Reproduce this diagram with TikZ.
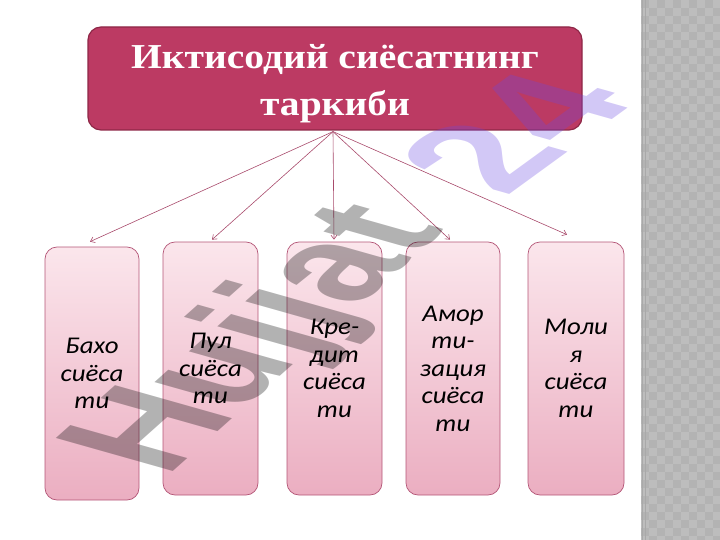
\documentclass[tikz,border=0pt]{standalone}
\usepackage{fontspec}
\setmainfont{Liberation Serif}[FakeStretch=1.13]
\newfontfamily\boxfont{Carlito}[FakeStretch=1.12]
\newfontfamily\wmfont{Liberation Sans}
\usetikzlibrary{arrows.meta,calc}
\definecolor{titlefill}{HTML}{BC3A63}
\definecolor{titleedge}{HTML}{8E2747}
\definecolor{boxtop}{HTML}{FBE6EC}
\definecolor{boxbot}{HTML}{EBAEC1}
\definecolor{boxedge}{HTML}{B45677}
\definecolor{arrcol}{HTML}{A84A6B}
\definecolor{stripbase}{HTML}{BDBDBD}
\definecolor{stripdark}{HTML}{B3B3B3}
\definecolor{stripline}{HTML}{A9A9A9}
\definecolor{wmgray}{HTML}{000000}
\definecolor{wmpurple}{HTML}{6A48E0}
\tikzset{
  titlebox/.style={draw=titleedge, line width=1.2pt, fill=titlefill, rounded corners=13pt,
    text=white, align=center, inner sep=0pt, text height=83pt, text depth=8pt,
    font=\bfseries\fontsize{35}{47.7}\selectfont},
  pbox/.style={draw=boxedge, line width=0.7pt, rounded corners=12pt,
    top color=boxtop, bottom color=boxbot, align=center, inner sep=0pt,
    font=\boxfont\itshape\fontsize{24}{27.5}\selectfont},
  arr/.style={draw=arrcol, line width=0.6pt, -{Straight Barb[length=4pt,width=6pt]}},
  wm/.style={inner sep=0pt, text opacity=0.3, font=\wmfont\bfseries\fontsize{138}{140}\selectfont}
}
\begin{document}
\begin{tikzpicture}[x=1pt,y=-1pt]
\useasboundingbox (0,0) rectangle (720,540);
% right strip
\fill[stripbase] (641,0) rectangle (720,540);
\foreach \i in {0,...,9}{
  \foreach \j in {0,...,33}{
    \fill[stripdark] ({641+8*\i},{16*\j+8*mod(\i,2)}) rectangle +(8,8);
  }
}
\draw[stripline, line width=1pt] (642,0) -- (642,540);
\draw[stripline, line width=0.6pt] (645,0) -- (645,540);
% title
\node[titlebox, minimum width=494pt, minimum height=103pt] (title) at (335,78.5)
  {Иктисодий сиёсатнинг\\таркиби};
% boxes
\node[pbox, minimum width=94pt, minimum height=253pt] (b1) at (92,373.5) {Бахо\\сиёса\\ти};
\node[pbox, minimum width=95pt, minimum height=253pt] (b2) at (210.5,368.5) {Пул\\сиёса\\ти};
\node[pbox, minimum width=95pt, minimum height=253pt] (b3) at (334.5,368.5) {Кре-\\дит\\сиёса\\ти};
\node[pbox, minimum width=94pt, minimum height=253pt] (b4) at (453,368.5) {Амор\\ти-\\зация\\сиёса\\ти};
\node[pbox, minimum width=96pt, minimum height=253pt] (b5) at (576,368.5) {Моли\\я\\сиёса\\ти};
% connectors
\coordinate (hub) at ($(title.south)+(-2,1)$);
\draw[arr] (hub) -- ($(b1.north)+(-2,-5)$);
\draw[arr] (hub) -- ($(b2.north)+(1.5,-2)$);
\draw[arr] (hub) -- ($(b3.north)+(-0.5,-2)$);
\draw[arr] (hub) -- ($(b4.north)+(-3,-2)$);
\draw[arr] (hub) -- ($(b5.north)+(-9,-7)$);
% watermark
\node[wm, anchor=base west, cm={0.730,0.651,-1.232,0.348,(0,0)}] (wmark) at (166,478)
  {\textcolor{wmgray}{Hujjat}};
\node[wm, anchor=base west, cm={0.877,0.638,-1.232,0.348,(0,0)}] (wmnum) at (505,198)
  {\textcolor{wmpurple}{24}};
\end{tikzpicture}
\end{document}
